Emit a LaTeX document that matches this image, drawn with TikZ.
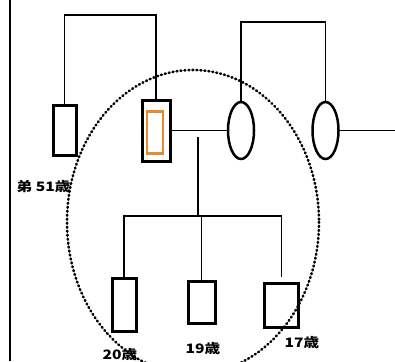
\documentclass[tikz,border=0pt]{standalone}
\usepackage{fontspec}
\newfontfamily\jpfont{Noto Sans CJK JP}
\usetikzlibrary{shapes.geometric}
\definecolor{pedorange}{HTML}{E8892F}
\begin{document}
\begin{tikzpicture}[x=1pt,y=-1pt,
  male/.style={draw,rectangle,line width=3pt,inner sep=0pt},
  female/.style={draw,ellipse,line width=2.5pt,inner sep=0pt,minimum width=26pt,minimum height=57pt},
  link/.style={line width=1.1pt},
  agelabel/.style={font=\jpfont\bfseries\fontsize{13}{13}\selectfont,inner sep=0pt,xscale=1.2}]
\useasboundingbox (0,0) rectangle (395,361);

% frame edge on the left
\draw[line width=1.6pt] (10,0) -- (10,361);

% parents' generation
\node[male,minimum width=23pt,minimum height=50pt] (bro) at (64.5,130) {};
\node[male,minimum width=28pt,minimum height=61pt] (pt) at (156,130.5) {};
\node[draw=pedorange,line width=2.8pt,minimum width=16pt,minimum height=42pt,inner sep=0pt] (ptin) at (155,132.5) {};
\node[female] (wife) at (241,130.5) {};
\node[female] (sis) at (325.5,130.5) {};

% grandparents' lines
\draw[link] (bro.north) -- (bro.north |- 0,15) -| (pt.north);
\draw[link] (wife.north) -- (wife.north |- 0,22) -| (sis.north);
\coordinate (rightend) at (395,130.5);
\draw[link] (sis.east) -- (rightend);

% marriage line and sibship
\draw[link] (pt.east) -- (wife.west);
\coordinate (desc) at (198,137);
\coordinate (sib) at (198,216);
\draw[link] (desc) -- (sib);

% children
\node[male,minimum width=24pt,minimum height=53pt] (c20) at (124,304.5) {};
\node[male,minimum width=27pt,minimum height=42pt] (c19) at (201.5,302) {};
\node[male,minimum width=34pt,minimum height=44pt] (c17) at (281.5,305) {};
\draw[link] (c20.north) -- (c20.north |- sib) -- (c17.north |- sib) -- ([yshift=5pt]c17.north);
\draw[link] (c19.north) -- (c19.north |- sib);

% dotted household circle
\draw[line width=2.6pt,line cap=round,dash pattern=on 0.9pt off 3.1pt] (193,222) ellipse [x radius=126, y radius=152];

% labels
\node[agelabel] (lbro) at (43.5,187) {弟 51歳};
\node[agelabel] (l20) at (120,355) {20歳};
\node[agelabel] (l19) at (203,349) {19歳};
\node[agelabel] (l17) at (302,343) {17歳};
\end{tikzpicture}
\end{document}
